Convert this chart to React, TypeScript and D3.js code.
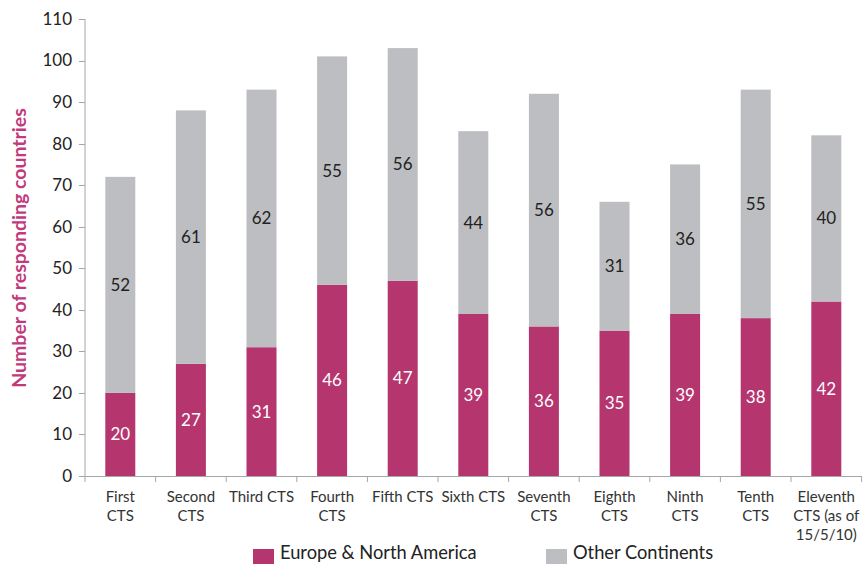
import React, { useRef, useEffect } from 'react';
import * as d3 from 'd3';

// survey rounds (labels split into lines as on the chart)
const categories = [
  ['First', 'CTS'],
  ['Second', 'CTS'],
  ['Third CTS'],
  ['Fourth', 'CTS'],
  ['Fifth CTS'],
  ['Sixth CTS'],
  ['Seventh', 'CTS'],
  ['Eighth', 'CTS'],
  ['Ninth', 'CTS'],
  ['Tenth', 'CTS'],
  ['Eleventh', 'CTS (as of', '15/5/10)'],
];
const europeNA = [20, 27, 31, 46, 47, 39, 36, 35, 39, 38, 42];
const otherContinents = [52, 61, 62, 55, 56, 44, 56, 31, 36, 55, 40];
const yTicks = [0, 10, 20, 30, 40, 50, 60, 70, 80, 90, 100, 110];
const seriesNames = ['Europe & North America', 'Other Continents'];

const MAGENTA = '#b5366f';
const GREY = '#bdbec1';
const FONT = 'Lato, "Open Sans", sans-serif';

export default function App() {
  const ref = useRef<SVGSVGElement>(null);
  const width = 866;
  const height = 564;

  useEffect(() => {
    if (!ref.current) return;
    const svg = d3.select(ref.current);
    svg.selectAll('*').remove();

    const left = 85, right = 861.6, top = 19, bottom = 476;

    const x = d3.scaleBand<number>()
      .domain(d3.range(categories.length))
      .range([left, right])
      .paddingInner(0.575)
      .paddingOuter(0.2875);
    const y = d3.scaleLinear().domain([0, 110]).range([bottom, top]);

    const rows = europeNA.map((e, i) => ({ i, europe: e, other: otherContinents[i] }));
    const stack = d3.stack<any>().keys(['europe', 'other'])(rows);
    const colors = [MAGENTA, GREY];
    const labelColors = ['#ffffff', '#222222'];

    const g = svg.append('g');

    stack.forEach((layer, li) => {
      g.selectAll(null)
        .data(layer)
        .join('rect')
        .attr('x', d => x(d.data.i)!)
        .attr('width', x.bandwidth())
        .attr('y', d => y(d[1]))
        .attr('height', d => y(d[0]) - y(d[1]))
        .attr('fill', colors[li]);

      g.selectAll(null)
        .data(layer)
        .join('text')
        .attr('x', d => x(d.data.i)! + x.bandwidth() / 2)
        .attr('y', d => (y(d[0]) + y(d[1])) / 2)
        .attr('dy', '0.35em')
        .attr('text-anchor', 'middle')
        .attr('font-family', FONT)
        .attr('font-size', 17)
        .attr('fill', labelColors[li])
        .text(d => d[1] - d[0]);
    });

    // y axis
    const axisColor = '#a6a6a6';
    g.append('line')
      .attr('x1', left).attr('x2', left)
      .attr('y1', top).attr('y2', bottom)
      .attr('stroke', axisColor);
    g.selectAll(null)
      .data(yTicks)
      .join('line')
      .attr('x1', left - 6).attr('x2', left)
      .attr('y1', d => Math.round(y(d)) + 0.5)
      .attr('y2', d => Math.round(y(d)) + 0.5)
      .attr('stroke', axisColor);
    g.selectAll(null)
      .data(yTicks)
      .join('text')
      .attr('x', left - 13)
      .attr('y', d => y(d))
      .attr('dy', '0.35em')
      .attr('text-anchor', 'end')
      .attr('font-family', FONT)
      .attr('font-size', 17)
      .attr('fill', '#222')
      .text(d => d);

    // x axis
    g.append('line')
      .attr('x1', left).attr('x2', right)
      .attr('y1', bottom + 0.5).attr('y2', bottom + 0.5)
      .attr('stroke', axisColor);
    const step = x.step();
    g.selectAll(null)
      .data(d3.range(categories.length + 1))
      .join('line')
      .attr('x1', d => left + d * step).attr('x2', d => left + d * step)
      .attr('y1', bottom).attr('y2', bottom + 6)
      .attr('stroke', axisColor);

    categories.forEach((lines, i) => {
      const t = g.append('text')
        .attr('text-anchor', 'middle')
        .attr('font-family', FONT)
        .attr('font-size', 15)
        .attr('fill', '#333');
      lines.forEach((ln, k) => {
        t.append('tspan')
          .attr('x', x(i)! + x.bandwidth() / 2)
          .attr('y', 502 + k * 19)
          .text(ln);
      });
    });

    // y title
    g.append('text')
      .attr('transform', `translate(26,248) rotate(-90)`)
      .attr('text-anchor', 'middle')
      .attr('font-family', FONT)
      .attr('font-size', 19.5)
      .attr('font-weight', 'bold')
      .attr('fill', '#c23a7c')
      .text('Number of responding countries');

    // legend
    const legendItems = [
      { name: seriesNames[0], color: MAGENTA, x: 253 },
      { name: seriesNames[1], color: GREY, x: 546 },
    ];
    const lg = g.selectAll(null).data(legendItems).join('g');
    lg.append('rect')
      .attr('x', d => d.x).attr('y', 549)
      .attr('width', 21).attr('height', 15)
      .attr('fill', d => d.color);
    lg.append('text')
      .attr('x', d => d.x + 27).attr('y', 559)
      .attr('font-family', FONT)
      .attr('font-size', 18.3)
      .attr('fill', '#222')
      .text(d => d.name);
  }, []);

  return (
    <svg
      ref={ref}
      width={width}
      height={height}
      style={{ position: 'absolute', left: 0, top: 0, background: '#fff' }}
    />
  );
}
